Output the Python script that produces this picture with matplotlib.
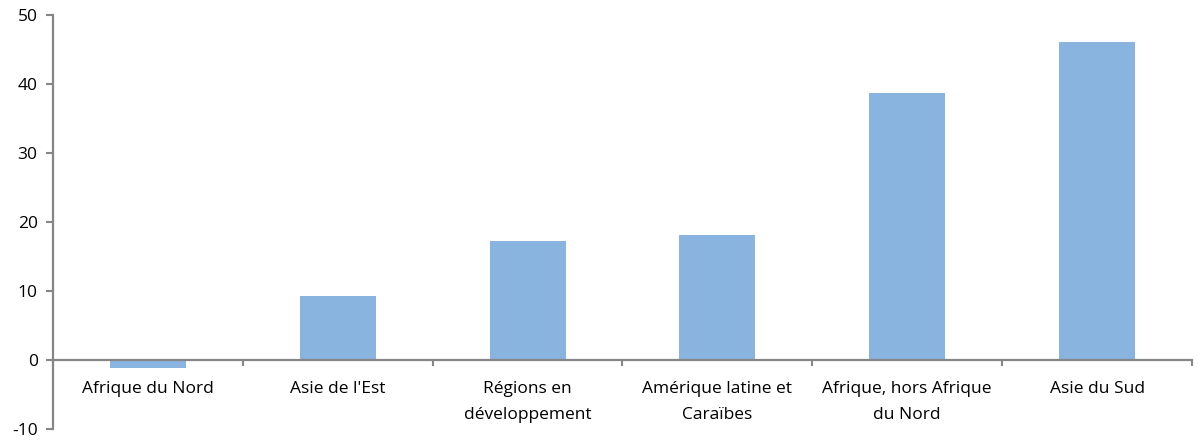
import matplotlib
matplotlib.use("Agg")
import matplotlib.pyplot as plt
import numpy as np

plt.rcParams["font.family"] = ["Open Sans", "DejaVu Sans"]
plt.rcParams["axes.unicode_minus"] = False

regions = ["Afrique du Nord", "Asie de l'Est", "Régions en\ndéveloppement",
           "Amérique latine et\nCaraïbes", "Afrique, hors Afrique\ndu Nord", "Asie du Sud"]
values = [-1.1, 9.3, 17.3, 18.2, 38.8, 46.1]
yticks = [-10, 0, 10, 20, 30, 40, 50]

fig = plt.figure(figsize=(11.98, 4.41), dpi=100)
ax = fig.add_axes([0.0442, 0.027, 0.9508, 0.938])

x = np.arange(len(regions))
ax.bar(x, values, width=0.4, color="#8AB4E0", zorder=1)

ax.set_xlim(-0.5, len(regions) - 0.5)
ax.set_ylim(-10, 50)
ax.set_yticks(yticks)

grey = "#868686"
for s in ["top", "right"]:
    ax.spines[s].set_visible(False)
ax.spines["left"].set_color(grey)
ax.spines["left"].set_linewidth(1.6)
ax.spines["bottom"].set_color(grey)
ax.spines["bottom"].set_linewidth(1.6)
ax.spines["bottom"].set_position(("data", 0))
ax.spines["bottom"].set_zorder(3)

ax.set_xticks(x)
ax.set_xticklabels(regions, fontsize=12.5, linespacing=1.8, color="black")
ax.set_xticks(np.arange(len(regions) + 1) - 0.5, minor=True)
ax.tick_params(axis="x", which="major", length=0, pad=15)
ax.tick_params(axis="x", which="minor", length=4, width=1.5, color=grey, direction="out")
ax.tick_params(axis="y", length=5, width=1.5, color=grey, labelsize=12.5, pad=6,
               labelcolor="black")

fig.savefig("out.png", dpi=100, facecolor="white")
